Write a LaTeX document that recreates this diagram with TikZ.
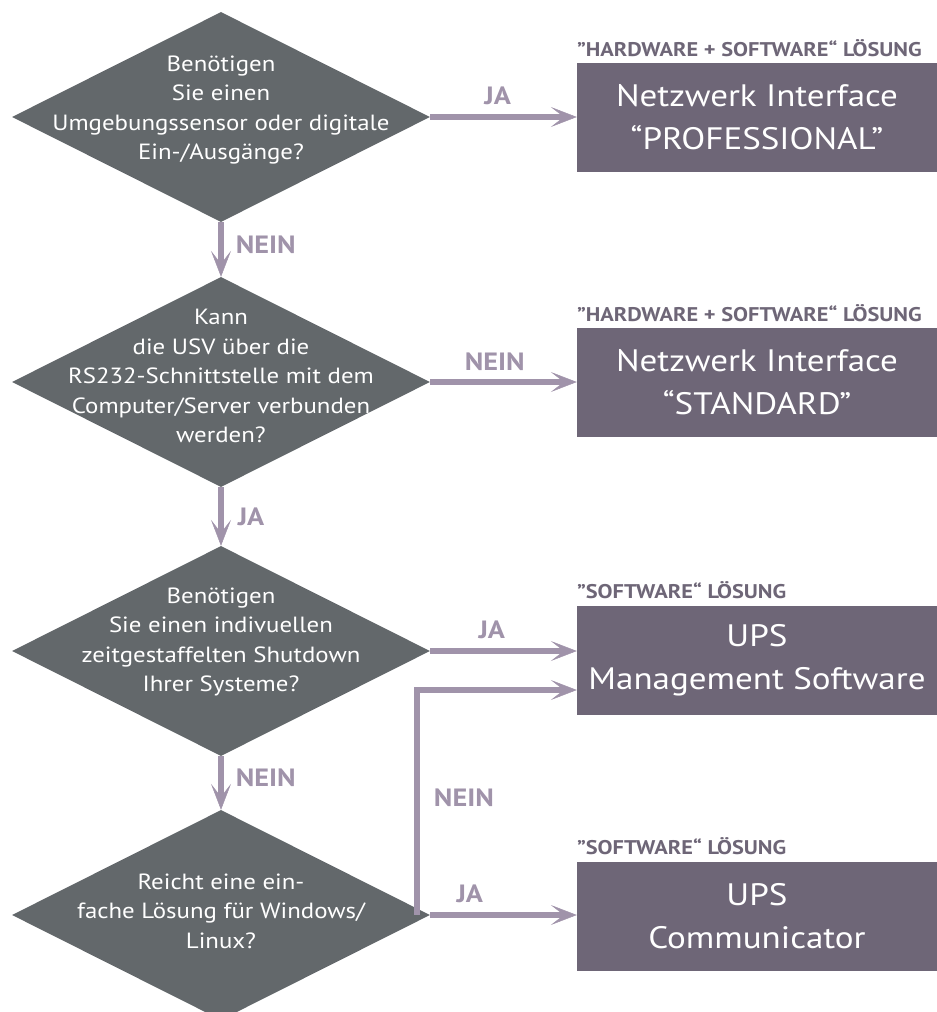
\documentclass[tikz,border=0pt]{standalone}
\usepackage{fontspec}
\setmainfont[FakeStretch=1.13]{PT Sans}
\usetikzlibrary{shapes.geometric,arrows.meta,positioning}
\definecolor{cFrage}{HTML}{63686B}
\definecolor{cBox}{HTML}{6E6677}
\definecolor{cPfeil}{HTML}{A093AA}
\tikzset{
  frage/.style={diamond, fill=cFrage, minimum width=418pt, minimum height=210pt, inner sep=0pt},
  ftext/.style={text=white, align=center, inner sep=0pt, font=\fontsize{22}{29.5}\selectfont},
  loesung/.style={rectangle, fill=cBox, minimum width=360pt, minimum height=109pt, inner sep=0pt, text=white, align=center, font=\fontsize{31}{43}\selectfont},
  kopf/.style={text=cBox, inner sep=0pt, font=\bfseries\fontsize{19.8}{22}\selectfont},
  pfeil/.style={line width=5.5pt, cPfeil, -{Stealth[length=26pt, width=20pt, inset=13pt, line width=0.5pt]}},
  lab/.style={text=cPfeil, inner sep=0pt, font=\bfseries\fontsize{25}{28}\selectfont},
}

\begin{document}
\begin{tikzpicture}[x=1pt, y=-1pt]
\useasboundingbox (0,0) rectangle (937,1012);
% Fragen
\node[frage] (f1) at (221,117) {};
\node[frage] (f2) at (221,382) {};
\node[frage] (f3) at (221,651) {};
\node[frage] (f4) at (221,915) {};
\node[ftext] (t1) at ([yshift=7pt]f1) {Benötigen\\Sie einen\\Umgebungssensor oder digitale\\Ein-/Ausgänge?};
\node[ftext] (t2) at ([yshift=6pt]f2) {Kann\\die USV über die\\RS232-Schnittstelle mit dem\\Computer/Server verbunden\\werden?};
\node[ftext] (t3) at ([yshift=9pt]f3) {Benötigen\\Sie einen indivuellen\\zeitgestaffelten Shutdown\\Ihrer Systeme?};
\node[ftext] (t4) at ([yshift=4pt]f4) {Reicht eine ein-\\fache Lösung für Windows/\\Linux?};
% Loesungen
\node[loesung] (b1) at (757,117.5) {Netzwerk Interface\\“PROFESSIONAL”};
\node[loesung] (b2) at (757,382.5) {Netzwerk Interface\\“STANDARD”};
\node[loesung] (b3) at (757,660) {UPS\\Management Software};
\node[loesung] (b4) at (757,916) {UPS\\Communicator};
\node[kopf, above right=6pt and 0pt of b1.north west] (k1) {"HARDWARE + SOFTWARE“ LÖSUNG};
\node[kopf, above right=6pt and 0pt of b2.north west] (k2) {"HARDWARE + SOFTWARE“ LÖSUNG};
\node[kopf, above right=6pt and 0pt of b3.north west] (k3) {"SOFTWARE“ LÖSUNG};
\node[kopf, above right=6pt and 0pt of b4.north west] (k4) {"SOFTWARE“ LÖSUNG};
% Pfeile
\draw[pfeil] (f1.south) -- node[lab, right=12pt, pos=0.42] (n1) {NEIN} (f2.north);
\draw[pfeil] (f2.south) -- node[lab, right=14pt, pos=0.5] (j2) {JA} (f3.north);
\draw[pfeil] (f3.south) -- node[lab, right=12pt, pos=0.4] (n3) {NEIN} (f4.north);
\draw[pfeil] (f1.east) -- node[lab, above=9pt, pos=0.46] (j1) {JA} (f1.east -| b1.west);
\draw[pfeil] (f2.east) -- node[lab, above=9pt, pos=0.44] (n2) {NEIN} (f2.east -| b2.west);
\draw[pfeil] (f3.east) -- node[lab, above=9pt, pos=0.42] (j3) {JA} (f3.east -| b3.west);
\draw[pfeil] (f4.east) -- node[lab, above=9pt, pos=0.27] (j4) {JA} (f4.east -| b4.west);
\coordinate (knick) at ([xshift=-13pt]f4.east);
\draw[pfeil] (knick) |- node[lab, right=14pt, pos=0.26] (n4) {NEIN} ([yshift=-30pt]b3.west);
\end{tikzpicture}
\end{document}
